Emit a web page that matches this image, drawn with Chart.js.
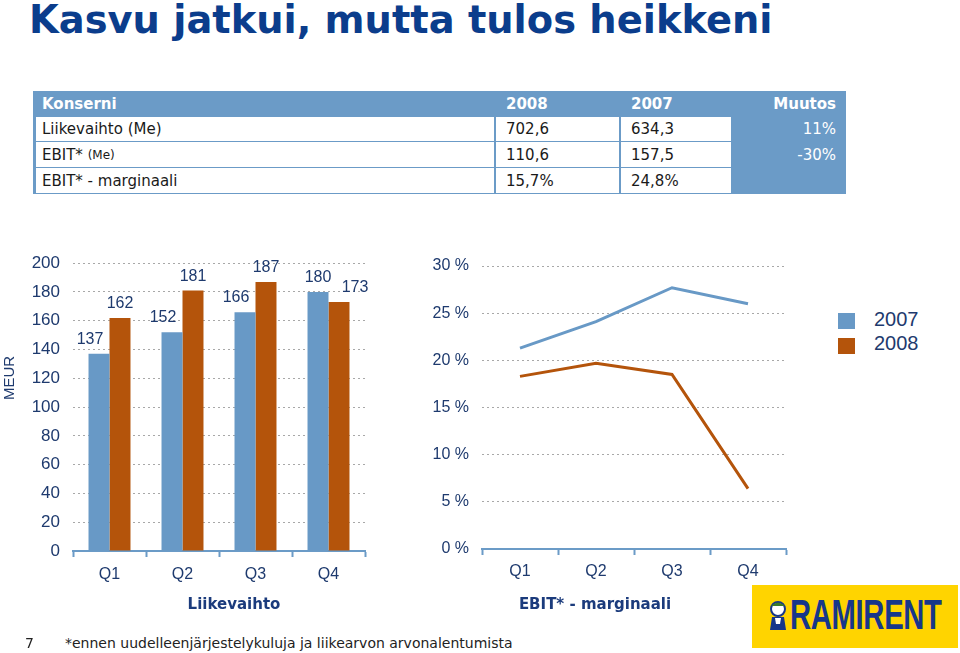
<!DOCTYPE html>
<html><head><meta charset="utf-8">
<script src="https://cdn.jsdelivr.net/npm/chart.js@4.4.1/dist/chart.umd.min.js"></script>
<style>
html,body{margin:0;padding:0;background:#fff;}
body{width:960px;height:653px;overflow:hidden;position:relative;font-family:'DejaVu Sans',Verdana,sans-serif;}
.abs{position:absolute;}
#title{left:29px;top:1px;font-family:'DejaVu Sans',Verdana,sans-serif;font-weight:bold;font-style:normal;font-size:38.4px;line-height:38px;color:#0b3d8c;white-space:nowrap;}
#tbl{left:33px;top:91px;width:813px;height:103px;background:#6b9bc7;}
.cell{position:absolute;display:flex;align-items:center;box-sizing:border-box;font-size:15px;color:#1a1a1a;white-space:nowrap;}
.white{background:#fff;}
.hd{color:#fff;font-weight:bold;}
.chg{color:#fff;justify-content:flex-end;}
canvas{position:absolute;}
.axt{position:absolute;font:bold 15px 'DejaVu Sans',Verdana,sans-serif;color:#1b3b7c;white-space:nowrap;transform:translate(-50%,-50%);}
#meur{left:8px;top:378px;font:15px 'Liberation Sans',Arial,sans-serif;color:#1e3a6e;transform:translate(-50%,-50%) rotate(-90deg);white-space:nowrap;}
.lgsq{position:absolute;width:17px;height:16px;}
.lgtx{position:absolute;font:20px/20px 'Liberation Sans',Arial,sans-serif;color:#1e3a6e;}
#foot7{left:25px;top:635px;font:14px/16px 'DejaVu Sans',Verdana,sans-serif;color:#222;}
#foot{left:65px;top:635px;font:14px/16px 'DejaVu Sans',Verdana,sans-serif;color:#222;white-space:nowrap;}
#logo{left:752px;top:585px;width:206px;height:63px;background:#ffd400;}
#logoTxt{position:absolute;left:790px;top:593px;font:bold 43px/43px 'Liberation Sans',Arial,sans-serif;color:#17378a;transform:scaleX(0.68);transform-origin:left top;white-space:nowrap;letter-spacing:-0.5px;}
</style>
</head>
<body>
<div id="title" class="abs">Kasvu jatkui, mutta tulos heikkeni</div>
<div id="tbl" class="abs"></div>

<canvas id="bar" width="380" height="380" style="left:0;top:240px;width:380px;height:380px;"></canvas>
<canvas id="line" width="400" height="380" style="left:400px;top:240px;width:400px;height:380px;"></canvas>

<div id="meur" class="abs">MEUR</div>
<div class="axt" style="left:234px;top:604px;">Liikevaihto</div>
<div class="axt" style="left:595px;top:604px;">EBIT* - marginaali</div>

<div id="legend"></div>

<div id="foot7" class="abs">7</div>
<div id="foot" class="abs">*ennen uudelleenjärjestelykuluja ja liikearvon arvonalentumista</div>

<div id="logo" class="abs"></div>
<svg class="abs" style="left:766px;top:600px;" width="24" height="32" viewBox="0 0 24 32">
  <circle cx="12" cy="9" r="7" fill="#fff" stroke="#17378a" stroke-width="2"/>
  <path d="M5 6 Q12 -1 19 6 Z" fill="#3a7a2a"/>
  <path d="M6 17 L18 17 L20 30 L4 30 Z" fill="#17378a"/>
  <path d="M9 18 L15 18 L14 24 L10 24 Z" fill="#fff"/>
</svg>
<div id="logoTxt">RAMIRENT</div>

<script>
// ---- data ----
const quarters = ['Q1', 'Q2', 'Q3', 'Q4'];
const seriesNames = ['2007', '2008'];
const revenue2007 = [137, 152, 166, 180];
const revenue2008 = [162, 181, 187, 173];
const margin2007 = [21.3, 24.1, 27.7, 26.0];
const margin2008 = [18.3, 19.7, 18.5, 6.4];
const tableHeader = ['Konserni', '2008', '2007', 'Muutos'];
const tableLabels = ['Liikevaihto (Me)', 'EBIT* (Me)', 'EBIT* - marginaali'];
const table2008 = ['702,6', '110,6', '15,7%'];
const table2007 = ['634,3', '157,5', '24,8%'];
const tableChange = ['11%', '-30%', ''];

// ---- styles ----
const BLUE = '#6899c6';
const RUST = '#b4540b';
const AXIS = '#6b9bc7';
const NAVY = '#1e3a6e';
const GRID = '#a8a8a8';
const ARIAL = "'Liberation Sans', Arial, sans-serif";

// ---- table ----
(function buildTable() {
  const tbl = document.getElementById('tbl');
  const T = 91, L = 33;
  const colX = [[36, 494], [496, 619], [621, 731], [731, 846]];
  const rowY = [[91, 117], [117, 141], [142, 167], [168, 193]];
  const padL = [6, 10, 10, 0];
  const mk = (x0, x1, y0, y1, txt, cls, pl, pr) => {
    const d = document.createElement('div');
    d.className = 'cell ' + cls;
    d.style.left = (x0 - L) + 'px'; d.style.top = (y0 - T) + 'px';
    d.style.width = (x1 - x0) + 'px'; d.style.height = (y1 - y0) + 'px';
    d.style.paddingLeft = pl + 'px'; d.style.paddingRight = pr + 'px';
    if (txt.indexOf('(Me)') > 0 && txt.indexOf('EBIT') === 0) {
      d.innerHTML = 'EBIT*&nbsp;<span style="font-size:12px">(Me)</span>';
    } else d.textContent = txt;
    tbl.appendChild(d);
  };
  tableHeader.forEach((h, c) => {
    mk(colX[c][0], colX[c][1], rowY[0][0], rowY[0][1], h, 'hd' + (c === 3 ? ' chg' : ''), padL[c], c === 3 ? 10 : 0);
  });
  tableLabels.forEach((lab, r) => {
    const y = rowY[r + 1];
    mk(colX[0][0], colX[0][1], y[0], y[1], lab, 'white', padL[0], 0);
    mk(colX[1][0], colX[1][1], y[0], y[1], table2008[r], 'white', padL[1], 0);
    mk(colX[2][0], colX[2][1], y[0], y[1], table2007[r], 'white', padL[2], 0);
    mk(colX[3][0], colX[3][1], y[0], y[1], tableChange[r], 'chg', 0, 10);
  });
})();

// ---- legend ----
(function buildLegend() {
  const lg = document.getElementById('legend');
  const cols = [BLUE, RUST];
  seriesNames.forEach((n, i) => {
    const sq = document.createElement('div');
    sq.className = 'lgsq';
    sq.style.left = '838px'; sq.style.top = (313 + i * 25) + 'px';
    sq.style.background = cols[i];
    lg.appendChild(sq);
    const tx = document.createElement('div');
    tx.className = 'lgtx';
    tx.style.left = '874px'; tx.style.top = (309 + i * 24) + 'px';
    tx.textContent = n;
    lg.appendChild(tx);
  });
})();

// ---- value labels plugin ----
const barLabels = {
  id: 'barLabels',
  afterDatasetsDraw(chart) {
    const ctx = chart.ctx;
    ctx.save();
    ctx.font = '16px ' + ARIAL;
    ctx.fillStyle = NAVY;
    ctx.textAlign = 'center';
    ctx.textBaseline = 'alphabetic';
    chart.data.datasets.forEach((ds, di) => {
      const meta = chart.getDatasetMeta(di);
      meta.data.forEach((el, i) => {
        const v = ds.data[i];
        const other = chart.data.datasets[1 - di].data[i];
        let dx = 0;
        if (v < other) dx = di === 0 ? -9 : 16;
        ctx.fillText(String(v), el.x + dx, el.y - 10);
      });
    });
    ctx.restore();
  }
};

const gridColor = (ctx) => (ctx.tick && ctx.tick.value === 0) ? 'rgba(0,0,0,0)' : GRID;

// ---- bar chart ----
new Chart(document.getElementById('bar'), {
  type: 'bar',
  data: {
    labels: quarters,
    datasets: [
      { label: seriesNames[0], data: revenue2007, backgroundColor: BLUE, categoryPercentage: 0.575, barPercentage: 1.0 },
      { label: seriesNames[1], data: revenue2008, backgroundColor: RUST, categoryPercentage: 0.575, barPercentage: 1.0 }
    ]
  },
  options: {
    responsive: false, animation: false, devicePixelRatio: 1,
    layout: { padding: { top: 18, right: 15, left: 0, bottom: 0 } },
    plugins: { legend: { display: false }, tooltip: { enabled: false } },
    scales: {
      x: {
        offset: true,
        grid: { display: true, offset: true, drawOnChartArea: false, drawTicks: true, tickLength: 6, tickColor: AXIS, tickWidth: 2, color: AXIS },
        border: { display: true, color: AXIS, width: 2 },
        ticks: { color: NAVY, font: { family: ARIAL, size: 16 }, padding: 8 },
        afterFit: (s) => { s.height = 69; }
      },
      y: {
        min: 0, max: 200,
        ticks: { stepSize: 20, color: NAVY, font: { family: ARIAL, size: 17 }, padding: 13 },
        grid: { color: gridColor, lineWidth: 1, drawTicks: false },
        border: { display: false, dash: [2, 3] },
        afterFit: (s) => { s.width = 73; }
      }
    }
  },
  plugins: [barLabels]
});

// ---- line chart ----
new Chart(document.getElementById('line'), {
  type: 'line',
  data: {
    labels: quarters,
    datasets: [
      { label: seriesNames[0], data: margin2007, borderColor: BLUE, borderWidth: 3, pointRadius: 0, tension: 0, fill: false },
      { label: seriesNames[1], data: margin2008, borderColor: RUST, borderWidth: 3, pointRadius: 0, tension: 0, fill: false }
    ]
  },
  options: {
    responsive: false, animation: false, devicePixelRatio: 1,
    layout: { padding: { top: 26, right: 14, left: 0, bottom: 0 } },
    plugins: { legend: { display: false }, tooltip: { enabled: false } },
    scales: {
      x: {
        offset: true,
        grid: { display: true, offset: true, drawOnChartArea: false, drawTicks: true, tickLength: 6, tickColor: AXIS, tickWidth: 2, color: AXIS },
        border: { display: true, color: AXIS, width: 2 },
        ticks: { color: NAVY, font: { family: ARIAL, size: 16 }, padding: 7 },
        afterFit: (s) => { s.height = 71; }
      },
      y: {
        min: 0, max: 30,
        ticks: { stepSize: 5, color: NAVY, font: { family: ARIAL, size: 16 }, padding: 13, callback: (v) => v + ' %' },
        grid: { color: gridColor, lineWidth: 1, drawTicks: false },
        border: { display: false, dash: [2, 3] },
        afterFit: (s) => { s.width = 82; }
      }
    }
  }
});
</script>
</body></html>
